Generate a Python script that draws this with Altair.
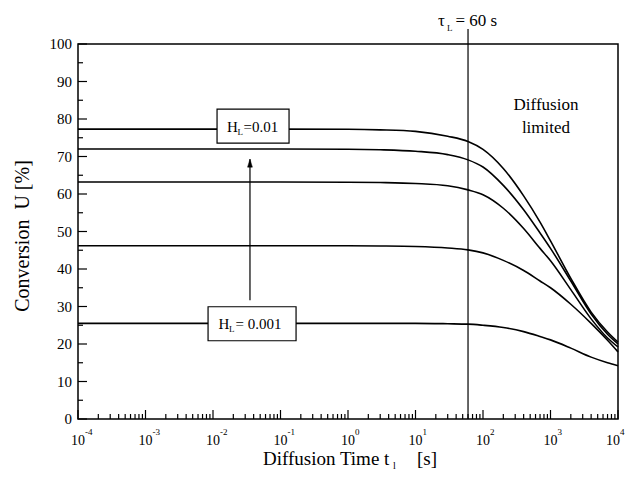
import altair as alt
import pandas as pd

# ---------------- data ----------------
t_s = [1e-4, 1e-3, 1e-2, 1e-1, 1, 3, 10, 30, 60, 100, 200, 400, 700, 1000, 2000, 4000, 7000, 10000]
u_c1 = [77.3, 77.3, 77.3, 77.3, 77.25, 77.1, 76.7, 75.4, 74.0, 71.9, 66.8, 59.5, 52.5, 47.5, 37.5, 28.5, 23.2, 20.5]
u_c2 = [72.0, 72.0, 72.0, 72.0, 71.95, 71.8, 71.4, 70.5, 69.1, 67.2, 62.3, 55.8, 49.6, 45.5, 36.8, 28.0, 22.6, 20.0]
u_c3 = [63.2, 63.2, 63.2, 63.2, 63.15, 63.05, 62.8, 62.2, 61.1, 59.8, 56.2, 50.8, 45.5, 42.2, 34.5, 26.7, 21.6, 19.2]
u_c4 = [46.2, 46.2, 46.2, 46.2, 46.2, 46.15, 46.0, 45.6, 45.1, 44.3, 42.3, 39.6, 36.8, 35.0, 30.6, 25.5, 21.0, 17.9]
u_c5 = [25.5, 25.5, 25.5, 25.5, 25.5, 25.5, 25.5, 25.4, 25.3, 25.0, 24.4, 23.3, 22.0, 21.1, 18.9, 16.5, 15.0, 14.2]
curve_names = ["HL1", "HL2", "HL3", "HL4", "HL5"]
curve_vals = [u_c1, u_c2, u_c3, u_c4, u_c5]

tau_L = [60]

y_major = [0, 10, 20, 30, 40, 50, 60, 70, 80, 90, 100]
y_minor = [5, 15, 25, 35, 45, 55, 65, 75, 85, 95]
x_exponents = [-4, -3, -2, -1, 0, 1, 2, 3, 4]
x_minor_mult = [2, 3, 4, 5, 6, 7, 8, 9]

box1_t, box1_u = [0.0392], [78.1]     # "H_L=0.01" label
box2_t, box2_u = [0.0379], [25.4]     # "H_L = 0.001" label
arrow_t, arrow_u0, arrow_u1 = [0.0353], [31.7], [69.3]
diff_t, diff_u = [857], [82.4]

# ---------------- setup ----------------
W, H = 540, 375
FONT = "Liberation Serif"
xs = alt.Scale(type="log", domain=[1e-4, 1e4], nice=False)
ys = alt.Scale(domain=[0, 100], nice=False, zero=False)


def X(f="t"):
    return alt.X(f"{f}:Q", scale=xs, axis=None)


def Y(f="u"):
    return alt.Y(f"{f}:Q", scale=ys, axis=None)


rows = []
for name, vals in zip(curve_names, curve_vals):
    for t, u in zip(t_s, vals):
        rows.append({"curve": name, "t": t, "u": u})
curves_df = pd.DataFrame(rows)

curves = alt.Chart(curves_df).mark_line(
    color="black", strokeWidth=1.6, interpolate="monotone"
).encode(x=X(), y=Y(), detail="curve:N")

one = pd.DataFrame({"a": [0]})

# y ticks (inward) and labels
ymaj_df = pd.DataFrame({"v": y_major, "lab": [str(v) for v in y_major]})
ymin_df = pd.DataFrame({"v": y_minor})
ymaj = alt.Chart(ymaj_df).mark_rule(color="black", strokeWidth=1.2).encode(
    y=Y("v"), x=alt.value(0), x2=alt.value(9))
ymin = alt.Chart(ymin_df).mark_rule(color="black", strokeWidth=1.2).encode(
    y=Y("v"), x=alt.value(0), x2=alt.value(5))
ylab = alt.Chart(ymaj_df).mark_text(
    font=FONT, fontSize=15, align="right", baseline="middle", color="black"
).encode(y=Y("v"), x=alt.value(-6), text="lab:N")
ytitle = alt.Chart(one).mark_text(
    font=FONT, fontSize=20, align="center", baseline="middle", angle=270, color="black"
).encode(x=alt.value(-55.5), y=alt.value(192), text=alt.value("Conversion\u00a0 U [%]"))

# x ticks and labels
xmaj_df = pd.DataFrame({
    "t": [10.0 ** e for e in x_exponents],
    "e": x_exponents,
    "base": ["10"] * len(x_exponents),
    "exp": [str(e) for e in x_exponents],
})
xmin_df = pd.DataFrame({"t": [m * 10.0 ** e for e in x_exponents[:-1] for m in x_minor_mult]})
xmaj = alt.Chart(xmaj_df).mark_rule(color="black", strokeWidth=1.2).encode(
    x=X(), y=alt.value(H), y2=alt.value(H - 9))
xmin = alt.Chart(xmin_df).mark_rule(color="black", strokeWidth=1.2).encode(
    x=X(), y=alt.value(H), y2=alt.value(H - 5))

last_e = x_exponents[-1]
xlab = alt.Chart(xmaj_df).transform_filter(alt.datum.e < last_e).mark_text(
    font=FONT, fontSize=14, align="center", baseline="alphabetic", color="black"
).encode(x=X(), y=alt.value(401), text="base:N")
xexp = alt.Chart(xmaj_df).transform_filter(alt.datum.e < last_e).mark_text(
    font=FONT, fontSize=9, align="left", baseline="alphabetic", dx=7, color="black"
).encode(x=X(), y=alt.value(391), text="exp:N")
xlab_last = alt.Chart(xmaj_df).transform_filter(alt.datum.e == last_e).mark_text(
    font=FONT, fontSize=14, align="center", baseline="alphabetic", dx=-5, color="black"
).encode(x=X(), y=alt.value(401), text="base:N")
xexp_last = alt.Chart(xmaj_df).transform_filter(alt.datum.e == last_e).mark_text(
    font=FONT, fontSize=9, align="left", baseline="alphabetic", dx=2, color="black"
).encode(x=X(), y=alt.value(391), text="exp:N")

# x-axis title
xt1 = alt.Chart(one).mark_text(
    font=FONT, fontSize=19, align="left", baseline="alphabetic", color="black"
).encode(x=alt.value(185), y=alt.value(421), text=alt.value("Diffusion Time t"))
xt2 = alt.Chart(one).mark_text(
    font=FONT, fontSize=10, align="left", baseline="alphabetic", color="black"
).encode(x=alt.value(315), y=alt.value(425), text=alt.value("l"))
xt3 = alt.Chart(one).mark_text(
    font=FONT, fontSize=19, align="left", baseline="alphabetic", color="black"
).encode(x=alt.value(339), y=alt.value(421), text=alt.value("[s]"))

# tau line + label
tau_df = pd.DataFrame({"t": tau_L})
tau_rule = alt.Chart(tau_df).mark_rule(color="black", strokeWidth=1.2).encode(
    x=X(), y=alt.value(-15), y2=alt.value(H))
tau_t1 = alt.Chart(tau_df).mark_text(
    font=FONT, fontSize=17, align="left", baseline="alphabetic", dx=-30, color="black"
).encode(x=X(), y=alt.value(-18), text=alt.value("τ"))
tau_t2 = alt.Chart(tau_df).mark_text(
    font=FONT, fontSize=9, align="left", baseline="alphabetic", dx=-21, color="black"
).encode(x=X(), y=alt.value(-13), text=alt.value("L"))
tau_t3 = alt.Chart(tau_df).mark_text(
    font=FONT, fontSize=17, align="left", baseline="alphabetic", dx=-12.5, color="black"
).encode(x=X(), y=alt.value(-18), text=alt.value("= 60 s"))

# boxes
b1_df = pd.DataFrame({"t": box1_t, "u": box1_u})
b2_df = pd.DataFrame({"t": box2_t, "u": box2_u})
box1 = alt.Chart(b1_df).mark_point(
    shape="M-1,-0.472L1,-0.472L1,0.472L-1,0.472Z", size=72 * 72, filled=True,
    fill="white", stroke="black", strokeWidth=1.2, opacity=1,
).encode(x=X(), y=Y())
box2 = alt.Chart(b2_df).mark_point(
    shape="M-1,-0.386L1,-0.386L1,0.386L-1,0.386Z", size=88 * 88, filled=True,
    fill="white", stroke="black", strokeWidth=1.2, opacity=1,
).encode(x=X(), y=Y())


def piece(df, text, size, dx, dy):
    return alt.Chart(df).mark_text(
        font=FONT, fontSize=size, align="left", baseline="alphabetic",
        dx=dx, dy=dy, color="black",
    ).encode(x=X(), y=Y(), text=alt.value(text))


b1_texts = [piece(b1_df, "H", 15, -26, 5.5), piece(b1_df, "L", 9, -15.5, 8.5),
            piece(b1_df, "=0.01", 15, -9.5, 5.5)]
b2_texts = [piece(b2_df, "H", 15, -33.5, 5), piece(b2_df, "L", 9, -23, 8),
            piece(b2_df, " = 0.001", 15, -16.5, 5)]

# arrow
arr_df = pd.DataFrame({"t": arrow_t, "u0": arrow_u0, "u1": arrow_u1})
arr_line = alt.Chart(arr_df).mark_rule(color="black", strokeWidth=1.2).encode(
    x=X(), y=Y("u0"), y2="u1:Q")
arr_head = alt.Chart(arr_df).mark_point(
    shape="M0,-1L-0.6,1L0.6,1Z", size=64, filled=True, fill="black",
    stroke="black", strokeWidth=0.5, opacity=1, yOffset=4,
).encode(x=X(), y=Y("u1"))

# diffusion limited
dl_df = pd.DataFrame({"t": diff_t, "u": diff_u, "txt": ["Diffusion\nlimited"]})
dl = alt.Chart(dl_df).mark_text(
    font=FONT, fontSize=17, align="center", baseline="alphabetic",
    lineBreak="\n", lineHeight=23, color="black",
).encode(x=X(), y=Y(), text="txt:N")

chart = alt.layer(
    curves, ymaj, ymin, ylab, ytitle, xmaj, xmin, xlab, xexp, xlab_last, xexp_last,
    xt1, xt2, xt3, tau_rule, tau_t1, tau_t2, tau_t3,
    box1, box2, *b1_texts, *b2_texts, arr_line, arr_head, dl,
).properties(
    width=W, height=H,
    background="white",
    autosize=alt.AutoSizeParams(type="none"),
    padding={"left": 70, "top": 36, "right": 7, "bottom": 54},
).configure_view(
    stroke="black", strokeWidth=1.5
)

chart.save("out.html", embed_options={"renderer": "svg", "actions": False})
